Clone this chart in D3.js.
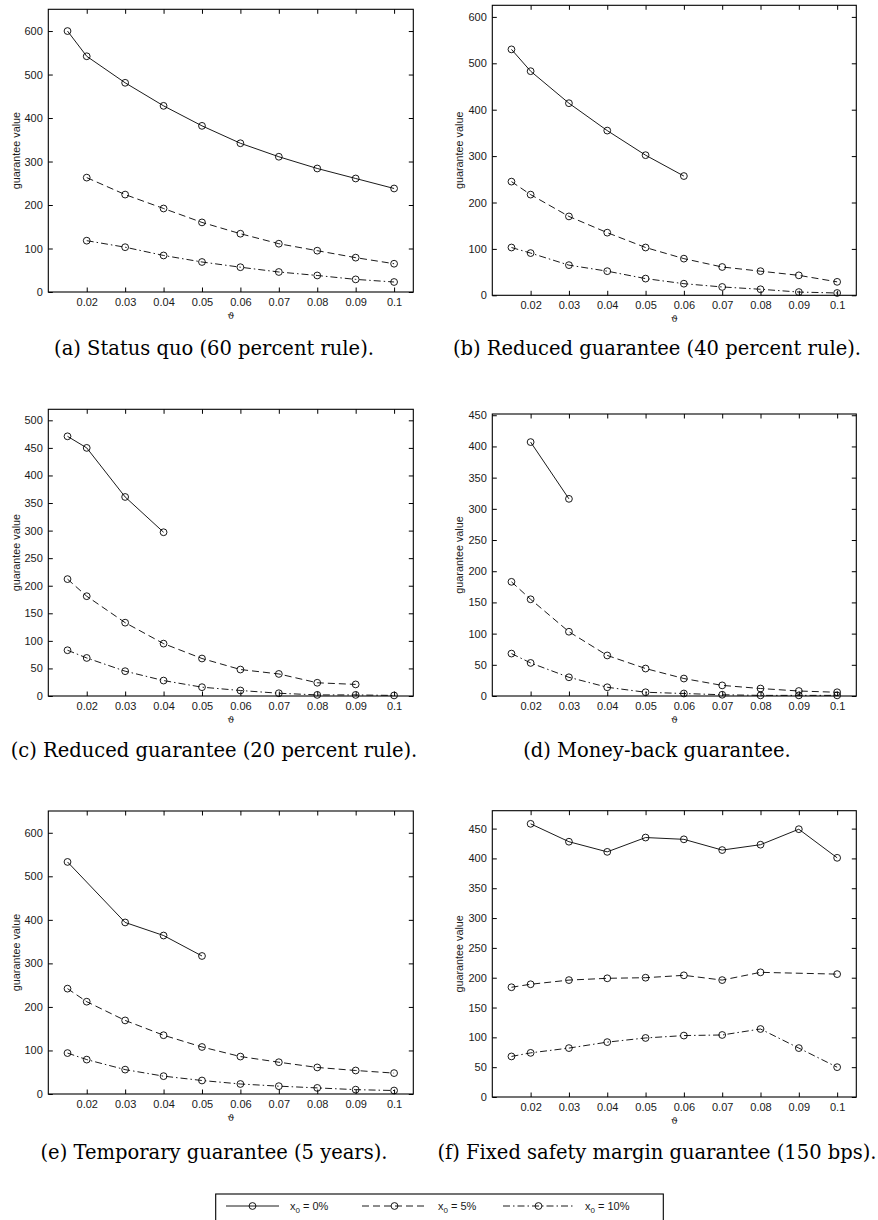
<!DOCTYPE html>
<html lang="en">
<head>
<meta charset="utf-8">
<script src="https://d3js.org/d3.v7.min.js"></script>
<style>
  html, body {margin: 0; padding: 0; background: #fff;}
  svg {display: block;}
  .axis text {font: 11px "Liberation Sans", Arial, sans-serif; fill: #1a1a1a;}
  .axis line {stroke: #000; stroke-width: 1;}
  .axis path {display: none;}
  .ylabel, .xlabel, .legend text {font-family: "Liberation Sans", Arial, sans-serif; fill: #1a1a1a;}
  .caption {font-family: "DejaVu Serif", serif; font-size: 19.5px; fill: #000;}
</style>
</head>
<body>
<script>
// discount rate grid (x axis) shared by all six panels
var theta = [0.015, 0.02, 0.03, 0.04, 0.05, 0.06, 0.07, 0.08, 0.09, 0.1];
var xTickValues = [0.02, 0.03, 0.04, 0.05, 0.06, 0.07, 0.08, 0.09, 0.1];
var xTickLabels = ["0.02", "0.03", "0.04", "0.05", "0.06", "0.07", "0.08", "0.09", "0.1"];
var legendLabels = ["0%", "5%", "10%"];

var yTicks600 = [0, 100, 200, 300, 400, 500, 600];
var yTicks500 = [0, 50, 100, 150, 200, 250, 300, 350, 400, 450, 500];
var yTicks450 = [0, 50, 100, 150, 200, 250, 300, 350, 400, 450];

// guarantee values, one array per x0 level (null = not computed)
var statusQuo0  = [600, 542, 481, 428, 382, 342, 311, 284, 261, 238];
var statusQuo5  = [null, 263, 224, 192, 160, 134, 111, 95, 79, 65];
var statusQuo10 = [null, 118, 103, 84, 69, 57, 46, 38, 29, 23];

var reduced40_0  = [530, 483, 414, 355, 302, 257, null, null, null, null];
var reduced40_5  = [245, 217, 170, 135, 103, 79, 61, 52, 43, 29];
var reduced40_10 = [103, 91, 65, 52, 36, 25, 18, 13, 7, 5];

var reduced20_0  = [471, 450, 361, 297, null, null, null, null, null, null];
var reduced20_5  = [212, 181, 133, 95, 68, 48, 40, 24, 21, null];
var reduced20_10 = [83, 69, 45, 28, 16, 10, 5, 2, 2, 1];

var moneyBack0  = [null, 407, 316, null, null, null, null, null, null, null];
var moneyBack5  = [183, 155, 103, 65, 44, 28, 17, 12, 8, 6];
var moneyBack10 = [68, 53, 30, 14, 6, 4, 2, 1, 1, 1];

var temporary0  = [533, null, 394, 364, 317, null, null, null, null, null];
var temporary5  = [242, 212, 169, 135, 108, 86, 73, 61, 54, 48];
var temporary10 = [94, 79, 56, 41, 31, 23, 18, 14, 10, 8];

var fixedMargin0  = [null, 458, 428, 411, 435, 432, 414, 423, 449, 401];
var fixedMargin5  = [184, 189, 196, 199, 200, 204, 196, 209, null, 206];
var fixedMargin10 = [68, 74, 82, 92, 99, 103, 104, 114, 82, 50];

var captions = [
  "(a) Status quo (60 percent rule).",
  "(b) Reduced guarantee (40 percent rule).",
  "(c) Reduced guarantee (20 percent rule).",
  "(d) Money-back guarantee.",
  "(e) Temporary guarantee (5 years).",
  "(f) Fixed safety margin guarantee (150 bps)."
];

// layout of each panel: axes box, y range, caption position
var panels = [
  {series: [statusQuo0, statusQuo5, statusQuo10],       yMax: 650, yTicks: yTicks600, box: [48.3, 9.3, 413.3, 292],   capX: 214, capY: 354.5},
  {series: [reduced40_0, reduced40_5, reduced40_10],    yMax: 625, yTicks: yTicks600, box: [492.3, 5.3, 856.3, 295.3], capX: 657, capY: 354.5},
  {series: [reduced20_0, reduced20_5, reduced20_10],    yMax: 520, yTicks: yTicks500, box: [48.3, 409.3, 413.3, 696],  capX: 214, capY: 756.5},
  {series: [moneyBack0, moneyBack5, moneyBack10],       yMax: 452, yTicks: yTicks450, box: [492.3, 414, 856.3, 696],   capX: 657, capY: 756.5},
  {series: [temporary0, temporary5, temporary10],       yMax: 650, yTicks: yTicks600, box: [48.3, 811, 413.3, 1094],   capX: 214, capY: 1158.5},
  {series: [fixedMargin0, fixedMargin5, fixedMargin10], yMax: 480, yTicks: yTicks450, box: [492.3, 810.7, 856.3, 1097], capX: 657, capY: 1158.5}
];

var dashes = [null, "7,4", "7,3,1.5,3"];
var tickLen = 4.5;

var svg = d3.select("body").append("svg")
    .attr("width", 878)
    .attr("height", 1220);

panels.forEach(function(p, i) {
  var x0 = p.box[0], y0 = p.box[1], x1 = p.box[2], y1 = p.box[3];
  var w = x1 - x0, h = y1 - y0;

  var x = d3.scaleLinear().domain([0.01, 0.105]).range([0, w]);
  var y = d3.scaleLinear().domain([0, p.yMax]).range([h, 0]);

  var g = svg.append("g").attr("transform", "translate(" + x0 + "," + y0 + ")");

  // ticks on all four sides, pointing inwards (matlab style)
  g.append("g").attr("class", "axis")
      .attr("transform", "translate(0," + h + ")")
      .call(d3.axisBottom(x).tickValues(xTickValues)
        .tickFormat(function(d, k) { return xTickLabels[k]; })
        .tickSizeInner(-tickLen).tickSizeOuter(0).tickPadding(6.2));
  g.append("g").attr("class", "axis")
      .call(d3.axisTop(x).tickValues(xTickValues).tickFormat("")
        .tickSizeInner(-tickLen).tickSizeOuter(0));
  g.append("g").attr("class", "axis")
      .call(d3.axisLeft(y).tickValues(p.yTicks).tickFormat(d3.format("d"))
        .tickSizeInner(-tickLen).tickSizeOuter(0).tickPadding(5.5));
  g.append("g").attr("class", "axis")
      .attr("transform", "translate(" + w + ",0)")
      .call(d3.axisRight(y).tickValues(p.yTicks).tickFormat("")
        .tickSizeInner(-tickLen).tickSizeOuter(0));

  g.append("rect")
      .attr("width", w).attr("height", h)
      .attr("fill", "none").attr("stroke", "#000").attr("stroke-width", 1.1);

  var line = d3.line()
      .x(function(d) { return x(d[0]); })
      .y(function(d) { return y(d[1]); });

  p.series.forEach(function(vals, s) {
    var pts = [];
    vals.forEach(function(v, k) { if (v !== null) pts.push([theta[k], v]); });
    g.append("path")
        .datum(pts)
        .attr("d", line)
        .attr("fill", "none")
        .attr("stroke", "#000")
        .attr("stroke-width", 0.9)
        .attr("stroke-dasharray", dashes[s]);
    g.selectAll(".m" + s)
        .data(pts)
        .enter().append("circle")
        .attr("class", "m" + s)
        .attr("cx", function(d) { return x(d[0]); })
        .attr("cy", function(d) { return y(d[1]); })
        .attr("r", 3.4)
        .attr("fill", "none")
        .attr("stroke", "#000")
        .attr("stroke-width", 0.9);
  });

  // axis titles
  g.append("text")
      .attr("class", "ylabel")
      .attr("transform", "translate(" + (x0 < 200 ? -28.6 : -29) + "," + (h / 2) + ") rotate(-90)")
      .attr("text-anchor", "middle")
      .style("font-size", "10.8px")
      .text("guarantee value");
  g.append("text")
      .attr("class", "xlabel")
      .attr("x", w / 2)
      .attr("y", h + 27)
      .attr("text-anchor", "middle")
      .style("font-family", "DejaVu Serif, serif")
      .style("font-size", "9.5px")
      .text("\u03D1");

  svg.append("text")
      .attr("class", "caption")
      .attr("x", p.capX)
      .attr("y", p.capY)
      .attr("text-anchor", "middle")
      .text(captions[i]);
});

// shared legend at the bottom
var legend = svg.append("g").attr("class", "legend");
legend.append("rect")
    .attr("x", 215.7).attr("y", 1194)
    .attr("width", 447.6).attr("height", 40)
    .attr("fill", "#fff").attr("stroke", "#000").attr("stroke-width", 1.1);

var legendLineX = [226, 362, 503];
var legendTextX = [290, 438, 585];
legendLabels.forEach(function(lab, s) {
  var lx = legendLineX[s], ly = 1206, lw = legendTextX[s] - 11 - lx;
  legend.append("line")
      .attr("x1", lx).attr("x2", lx + lw)
      .attr("y1", ly).attr("y2", ly)
      .attr("stroke", "#000").attr("stroke-width", 0.9)
      .attr("stroke-dasharray", dashes[s]);
  legend.append("circle")
      .attr("cx", lx + lw / 2).attr("cy", ly).attr("r", 3.4)
      .attr("fill", "none").attr("stroke", "#000").attr("stroke-width", 0.9);
  var t = legend.append("text")
      .attr("x", legendTextX[s]).attr("y", ly + 3.8)
      .style("font-size", "11px");
  t.append("tspan").text("x");
  t.append("tspan").attr("dy", 3).style("font-size", "8px").text("0");
  t.append("tspan").attr("dy", -3).text(" = " + lab);
});
</script>
</body>
</html>
